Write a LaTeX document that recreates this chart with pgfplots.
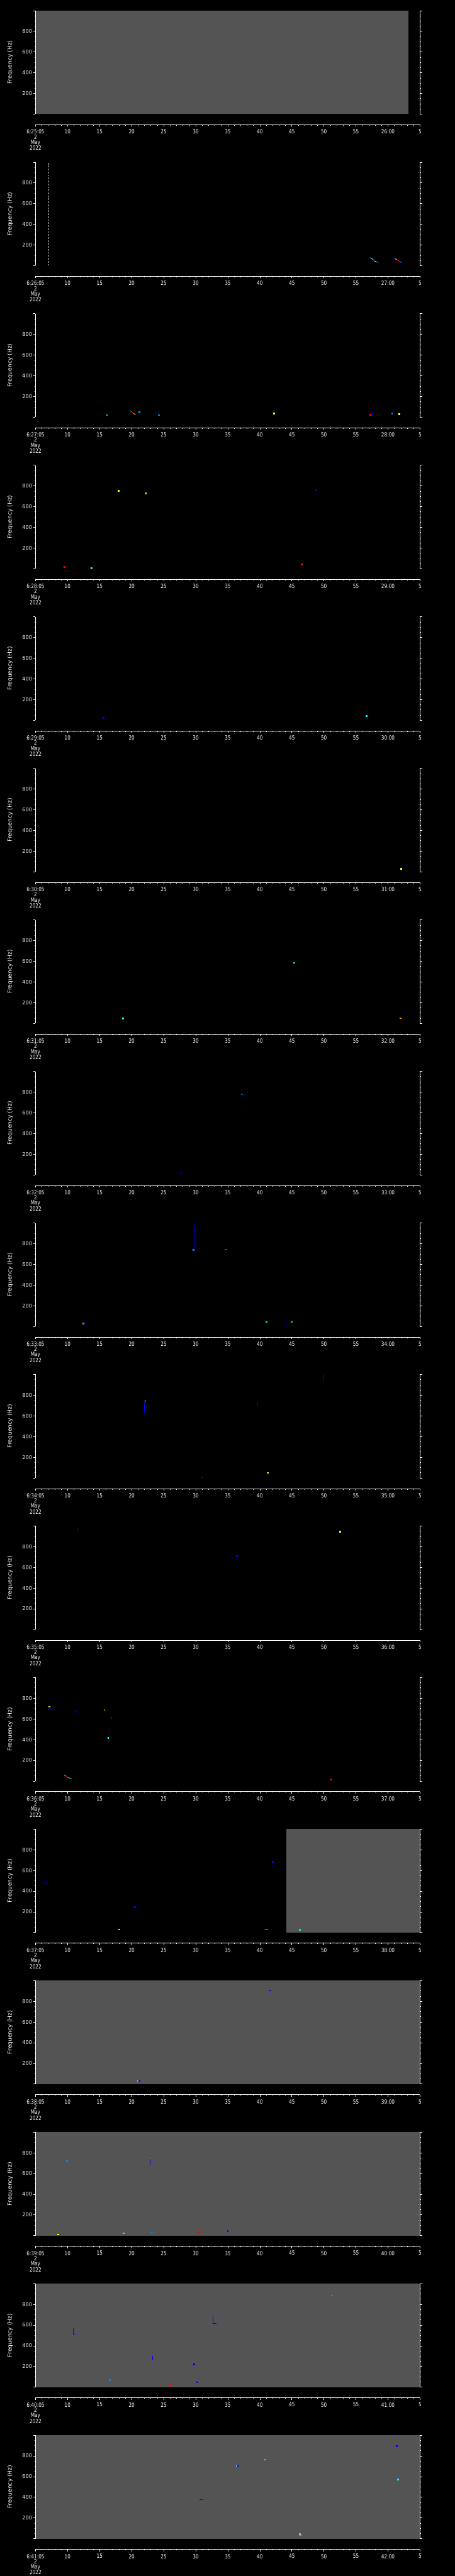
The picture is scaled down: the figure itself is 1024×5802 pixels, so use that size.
\documentclass[border=0pt]{standalone}
\usepackage{fontspec}
\setmainfont{DejaVu Sans}
\usepackage{pgfplots}
\pgfplotsset{compat=1.18}
\definecolor{bggray}{RGB}{84,84,84}
\definecolor{lbl}{RGB}{170,170,170}
\definecolor{cB}{RGB}{0,0,255}
\definecolor{cL}{RGB}{0,140,255}
\definecolor{cC}{RGB}{0,255,255}
\definecolor{cG}{RGB}{0,255,100}
\definecolor{cY}{RGB}{255,255,0}
\definecolor{cO}{RGB}{255,140,0}
\definecolor{cR}{RGB}{255,0,0}

\pgfplotsset{
  spec panel/.style={
    scale only axis, width=865.5pt, height=233pt,
    xmin=0, xmax=60, ymin=0, ymax=1000,
    separate axis lines,
    axis x line=none, axis y line=box,
    xtick=\empty,
    ytick={0,200,...,1000}, yticklabels={{},200,400,600,800,{}},
    minor y tick num=3,
    tick align=outside, yticklabel pos=left,
    major tick length=4.3pt, minor tick length=2.3pt,
    axis line style={white, line width=1pt, -},
    every tick/.style={white, line width=1pt},
    yticklabel style={font=\fontsize{11.5}{12}\selectfont, text=white},
    ylabel={Frequency (Hz)},
    ylabel style={at={(rel axis cs:-0.0659,0.5)}, anchor=center, text=white, font=\fontsize{13}{14}\selectfont},
    axis on top,
  },
  x panel/.style={
    scale only axis, width=865.5pt, height=10pt,
    xmin=0, xmax=60, ymin=0, ymax=1,
    separate axis lines,
    axis x line=bottom, axis y line=none, ytick=\empty,
    xtick={0,5,...,60}, minor x tick num=4,
    tick align=outside,
    major tick length=4.3pt, minor tick length=2.3pt,
    axis line style={white, line width=1pt, -},
    every tick/.style={white, line width=1pt},
    xticklabel style={font=\fontsize{13}{11.7}\selectfont, text=white, align=center, xscale=0.8, yshift=-3pt},
  },
}

\newcommand\spk[3]{\addplot[only marks, mark=square*, mark size=1.2pt, color=#1] coordinates {(#2,#3)};}
\newcommand\seg[6][1.4pt]{\addplot[#2, line width=#1] coordinates {(#3,#4) (#5,#6)};}
\newcommand\bgfill[2]{\addplot[fill=bggray, draw=none] coordinates {(#1,1000) (#2,1000)} \closedcycle;}
\newcommand\note[3]{%
  \node[text=white, font=\fontsize{9}{10}\selectfont, inner sep=0pt, yshift=-6pt] at (axis cs:#1,0) {#2};
  \node[text=white, font=\fontsize{9}{10}\selectfont, inner sep=0pt, yshift=-15pt] at (axis cs:#1,0) {#3};}

\newcommand\panel[5]{%
  \pgfmathsetmacro\ybot{-(24+#1*341.3+233)}%
  \pgfmathsetmacro\yax{-(24+#1*341.3+257)}%
  \begin{axis}[spec panel, at={(80pt,\ybot pt)}, anchor=south west]
    #5
    \node[text=lbl, font=\fontsize{13}{14}\selectfont, anchor=west, inner sep=0pt] at (rel axis cs:-0.0797,0.9) {(#2)};
    \node[text=white, font=\fontsize{11.5}{12}\selectfont, anchor=north east, inner sep=0pt, xshift=-9pt] at (rel axis cs:0,1) {1000};
    \node[text=white, font=\fontsize{11.5}{12}\selectfont, anchor=south east, inner sep=0pt, xshift=-9pt] at (rel axis cs:0,0) {0};
  \end{axis}
  \begin{axis}[x panel, at={(80pt,\yax pt)}, anchor=south west,
     xticklabels={{#3\\2\\May\\2022},10,15,20,25,30,35,40,45,50,55,#4,5}]
  \end{axis}
}

\begin{document}
\begin{tikzpicture}
\fill[black] (0pt,0pt) rectangle (1024pt,-5802pt);
\useasboundingbox (0pt,0pt) rectangle (1024pt,-5802pt);

% (1)
\panel{0}{1}{6:25:05}{26:00}{\bgfill{0}{58.2}}

% (2)
\panel{1}{2}{6:26:05}{27:00}{%
  \addplot[white, line width=1pt, dash pattern=on 4pt off 2.7pt] coordinates {(2,0) (2,1000)};
  \node[text=white, font=\fontsize{9}{10}\selectfont, anchor=south west, inner sep=0pt, yshift=3pt] at (rel axis cs:0,1) {\$ADRUN,3,*};
  \seg{cL}{52.2}{75}{52.4}{70}
  \seg{cC}{52.4}{70}{52.7}{57}
  \seg{cR}{52.7}{57}{52.9}{43}
  \seg{cY}{52.9}{43}{53.2}{37}
  \seg{cL}{53.2}{37}{53.5}{31}
  \seg{cB}{55.9}{68}{56.1}{66}
  \seg{cY}{56.1}{66}{56.35}{58}
  \seg{cR}{56.35}{58}{56.8}{40}
  \seg{cL}{56.8}{40}{57.1}{28}
  \note{52.9}{1}{2.5}}

% (3)
\panel{2}{3}{6:27:05}{28:00}{%
  \spk{cG}{11.1}{23}
  \seg{cG}{14.7}{62}{15.0}{55}
  \seg{cR}{15.0}{55}{15.3}{35}
  \seg{cY}{15.3}{35}{15.6}{25}
  \spk{cL}{16.2}{51}
  \spk{cL}{19.2}{23}
  \spk{cY}{37.2}{37}
  \spk{cR}{52.2}{25}
  \spk{cB}{52.5}{25}
  \spk{cL}{55.6}{37}
  \spk{cY}{56.7}{31}}

% (4)
\panel{3}{4}{6:28:05}{29:00}{%
  \spk{cR}{4.5}{17}
  \spk{cC}{8.7}{6}
  \spk{cY}{12.9}{755}
  \spk{cY}{17.2}{730}
  \spk{cR}{41.5}{45}
  \spk{cB}{43.7}{760}}

% (5)
\panel{4}{5}{6:29:05}{30:00}{%
  \spk{cB}{10.6}{25}
  \spk{cC}{51.6}{42}}

% (6)
\panel{5}{6}{6:30:05}{31:00}{%
  \spk{cY}{57.0}{31}}

% (7)
\panel{6}{7}{6:31:05}{32:00}{%
  \spk{cC}{13.6}{48}
  \spk{cG}{40.3}{587}
  \spk{cO}{56.9}{51}}

% (8)
\panel{7}{8}{6:32:05}{33:00}{%
  \seg{cC}{32.1}{782}{32.3}{775}
  \seg{cB}{32.3}{775}{32.6}{768}
  \seg{cB}{32.2}{670}{32.2}{650}
  \spk{cB}{22.6}{20}}

% (9)
\panel{8}{9}{6:33:05}{34:00}{%
  \seg[0.8pt]{cB}{24.7}{1000}{24.7}{740}
  \spk{cL}{24.6}{740}
  \seg{cL}{29.5}{743}{29.9}{743}
  \spk{cO}{7.4}{31}
  \spk{cB}{7.6}{31}
  \spk{cC}{36.0}{45}
  \spk{cB}{39.1}{31}
  \spk{cG}{39.9}{45}}

% (10)
\panel{9}{10}{6:34:05}{35:00}{%
  \seg{cB}{17.0}{727}{17.0}{624}
  \seg[1pt]{cY}{17.05}{755}{17.05}{727}
  \seg[1pt]{cB}{34.7}{736}{34.7}{694}
  \seg[1pt]{cB}{45.0}{1000}{45.0}{933}
  \spk{cB}{26.0}{8}
  \spk{cY}{36.2}{50}}

% (11)
\panel{10}{11}{6:35:05}{36:00}{%
  \seg[1pt]{cB}{6.6}{978}{6.6}{942}
  \spk{cB}{31.4}{709}
  \spk{cY}{47.5}{945}}

% (12)
\panel{11}{12}{6:36:05}{37:00}{%
  \spk{cY}{2.1}{718}
  \spk{cB}{2.25}{710}
  \seg[1pt]{cB}{6.4}{680}{6.4}{660}
  \seg[1pt]{cY}{10.8}{692}{10.8}{680}
  \seg[1pt]{cB}{10.85}{680}{10.85}{661}
  \spk{cB}{11.8}{611}
  \spk{cC}{11.3}{418}
  \seg{cC}{4.5}{57}{4.8}{45}
  \seg{cR}{4.8}{45}{5.0}{32}
  \seg{cO}{5.0}{32}{5.2}{30}
  \seg{cC}{5.2}{30}{5.6}{26}
  \spk{cR}{46.0}{16}
  \note{4.97}{1}{2.6}}

% (13)
\panel{12}{13}{6:37:05}{38:00}{%
  \bgfill{39.1}{60}
  \spk{cB}{1.7}{479}
  \spk{cB}{15.5}{248}
  \spk{cB}{37.0}{684}
  \spk{cC}{13.0}{31}
  \seg{cR}{35.6}{27}{35.9}{27}
  \seg{cC}{35.9}{27}{36.3}{27}
  \spk{cG}{41.2}{27}}

% (14)
\panel{13}{14}{6:38:05}{39:00}{%
  \bgfill{0}{60}
  \spk{cB}{36.5}{906}
  \spk{cO}{16.0}{34}
  \spk{cB}{16.15}{34}}

% (15)
\panel{14}{15}{6:39:05}{40:00}{%
  \bgfill{0}{60}
  \spk{cL}{4.9}{722}
  \seg[1pt]{cG}{17.9}{748}{17.9}{740}
  \seg[1pt]{cB}{17.9}{740}{17.9}{686}
  \spk{cY}{3.5}{13}
  \spk{cC}{13.7}{24}
  \seg{cL}{17.9}{24}{18.3}{34}
  \spk{cR}{25.4}{28}
  \spk{cO}{29.8}{49}
  \spk{cB}{29.95}{45}
  \note{3.5}{4}{2.1}}

% (16)
\panel{15}{16}{6:40:05}{41:00}{%
  \bgfill{0}{60}
  \seg[0.8pt]{cB}{5.9}{571}{5.9}{511}
  \seg[1pt]{cB}{5.9}{511}{6.2}{511}
  \spk{cL}{11.6}{68}
  \seg[0.8pt]{cB}{18.2}{301}{18.2}{265}
  \seg[1pt]{cB}{18.2}{265}{18.5}{265}
  \spk{cB}{24.7}{220}
  \spk{cR}{21.0}{30}
  \spk{cB}{25.2}{49}
  \seg[0.8pt]{cB}{27.7}{688}{27.7}{613}
  \seg[1pt]{cB}{27.7}{613}{28.2}{613}
  \spk{cL}{46.2}{887}}

% (17)
\panel{16}{17}{6:41:05}{42:00}{%
  \bgfill{0}{60}
  \spk{cB}{56.3}{895}
  \seg[1pt]{cB}{56.6}{585}{56.6}{574}
  \spk{cC}{56.55}{574}
  \spk{cG}{35.8}{766}
  \spk{cC}{31.4}{705}
  \spk{cB}{31.6}{705}
  \seg{cB}{25.6}{378}{26.1}{378}
  \spk{cC}{41.2}{44}
  \spk{cO}{41.3}{36}}

\end{tikzpicture}
\end{document}
